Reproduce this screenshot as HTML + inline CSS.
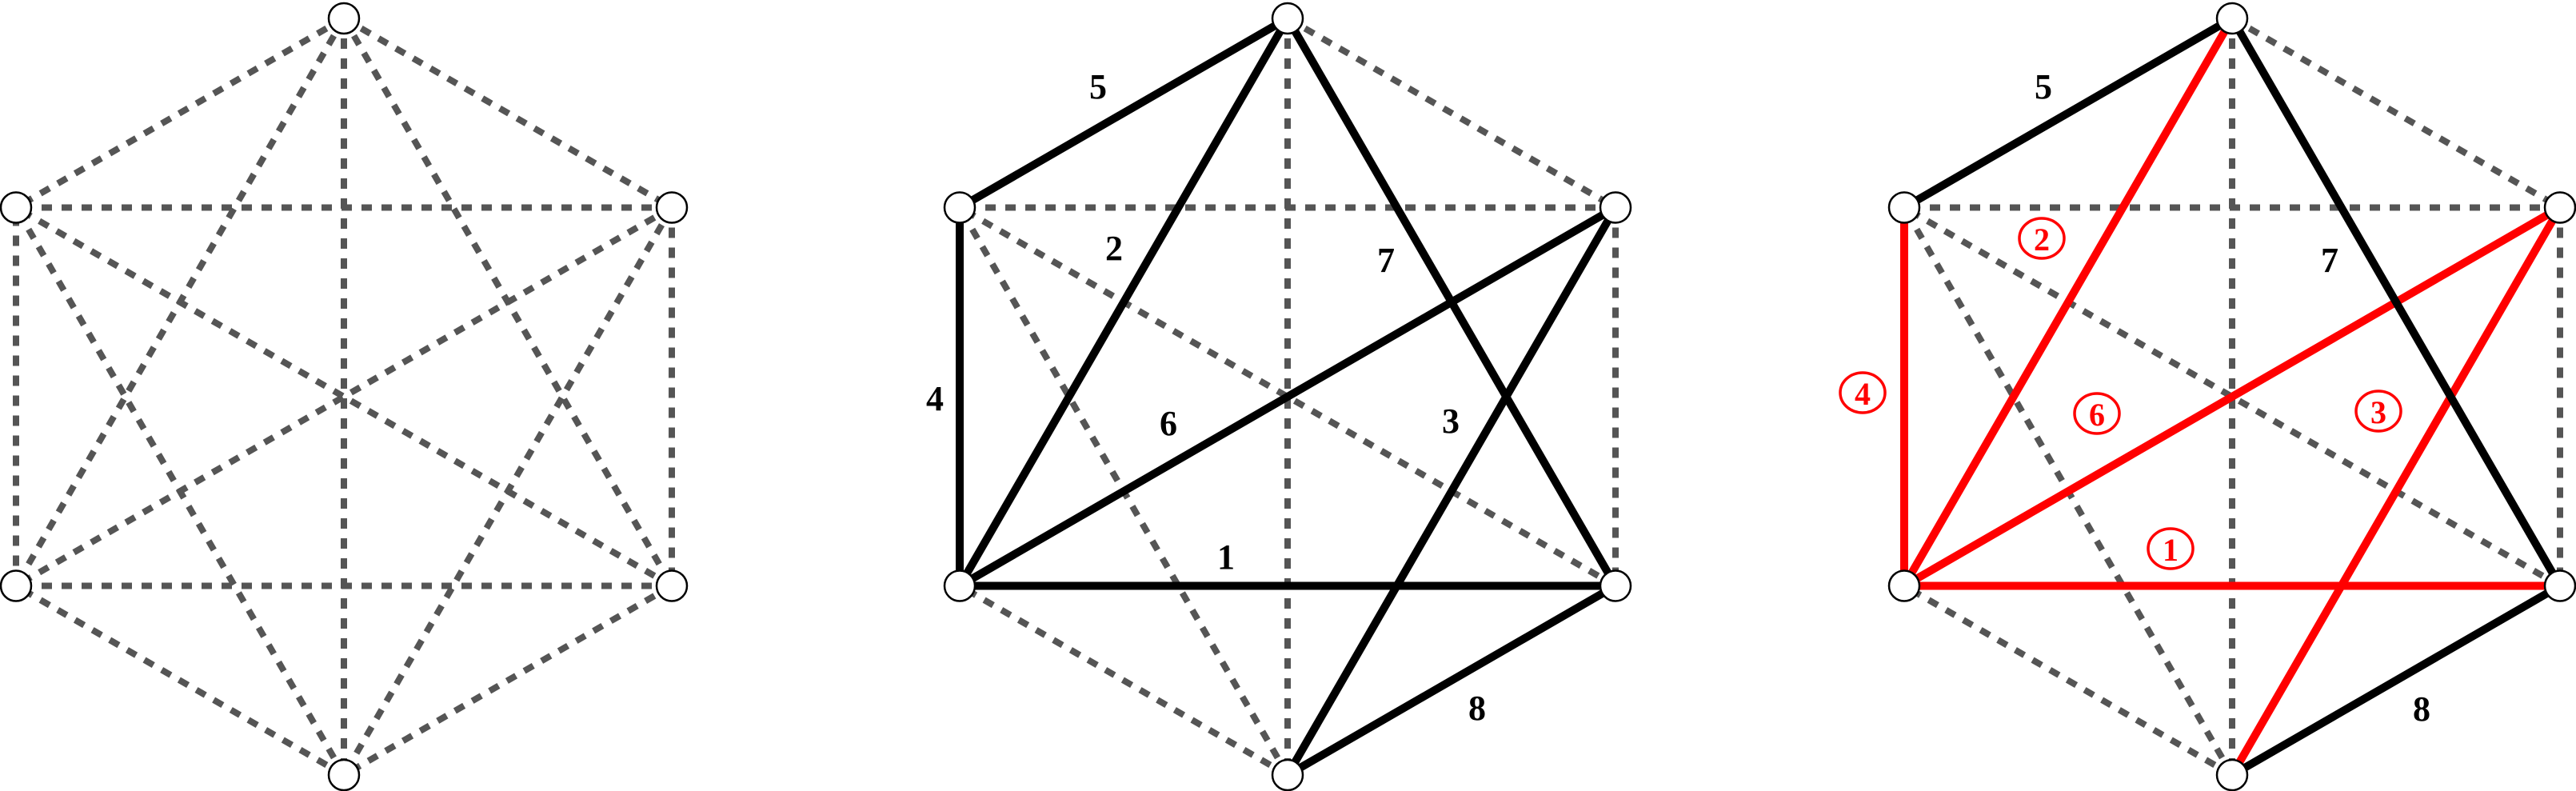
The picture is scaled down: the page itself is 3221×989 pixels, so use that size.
<!DOCTYPE html>
<html><head><meta charset="utf-8"><style>
html,body{margin:0;padding:0;background:#fff;}
svg{display:block;}
</style></head><body>
<svg id="fig" width="3221" height="989" viewBox="0 0 3221 989" xmlns="http://www.w3.org/2000/svg"></svg>
<script>
// Node positions relative to each panel center (unit hexagon coords)
const nodeNames = ['top','upper-right','lower-right','bottom','lower-left','upper-left'];
const nodeUX = [0, 1, 1, 0, -1, -1];
const nodeUY = [-2, -1, 1, 2, 1, -1];
const panelCenters = [430, 1610, 2791];
// Highlighted edges
const edgeFrom  = [4, 4, 1, 5, 5, 4, 0, 3];
const edgeTo    = [2, 0, 3, 4, 0, 1, 2, 2];
const edgeLabel = ['1','2','3','4','5','6','7','8'];
const edgeRed   = [true, true, true, true, false, true, false, false];
const labelDX2 = [-77,-217,204,-441,-237,-149,123,237];
const labelDY2 = [200,-186,30,2,-388,33,-171,389];
const labelDX3 = [-77,-238,183,-462,-236,-169,122,237];
const labelDY3 = [190,-198,18,-5,-388,21,-171,390];

const NS='http://www.w3.org/2000/svg';
const svg=document.getElementById('fig');
const HW=410, HH=236.5, CY=496;
function px(p,i){return panelCenters[p]+nodeUX[i]*HW;}
function py(i){return CY+nodeUY[i]*HH;}
function mk(tag,attrs,parent){const e=document.createElementNS(NS,tag);for(const k in attrs)e.setAttribute(k,attrs[k]);(parent||svg).appendChild(e);return e;}

for(let p=0;p<3;p++){
  const g=mk('g',{});
  
  
  for(let i=0;i<6;i++)for(let j=i+1;j<6;j++){
    const l=mk('line',{x1:px(p,i),y1:py(i),x2:px(p,j),y2:py(j),stroke:'#555','stroke-width':8,'stroke-dasharray':'13 12'},g);
    
    
  }
  if(p>0){
    for(let k=0;k<edgeFrom.length;k++){
      const a=edgeFrom[k],b=edgeTo[k];
      const col=(p===2&&edgeRed[k])?'#ff0000':'#000';
      const l=mk('line',{x1:px(p,a),y1:py(a),x2:px(p,b),y2:py(b),stroke:col,'stroke-width':10},g);
      
      
    }
  }
  for(let i=0;i<6;i++){
    const c=mk('circle',{cx:px(p,i),cy:py(i),r:19,fill:'#fff',stroke:'#000','stroke-width':2.5},g);
    
    
  }
  if(p>0){
    for(let k=0;k<edgeLabel.length;k++){
      const dx=p===1?labelDX2[k]:labelDX3[k], dy=p===1?labelDY2[k]:labelDY3[k];
      const x=panelCenters[p]+dx, y=CY+dy;
      const red=(p===2&&edgeRed[k]);
      const col=red?'#ff0000':'#000';
      if(red){
        const e=mk('ellipse',{cx:x,cy:y,rx:28,ry:25,fill:'none',stroke:col,'stroke-width':3.5},g);
        
        
      }
      const t=mk('text',{x:x,y:y+15,'text-anchor':'middle','font-family':'"Liberation Serif", serif','font-weight':'bold','font-size':red?40:44,fill:col},g);
      t.textContent=edgeLabel[k];
      
      
    }
  }
}
</script>
</body></html>
